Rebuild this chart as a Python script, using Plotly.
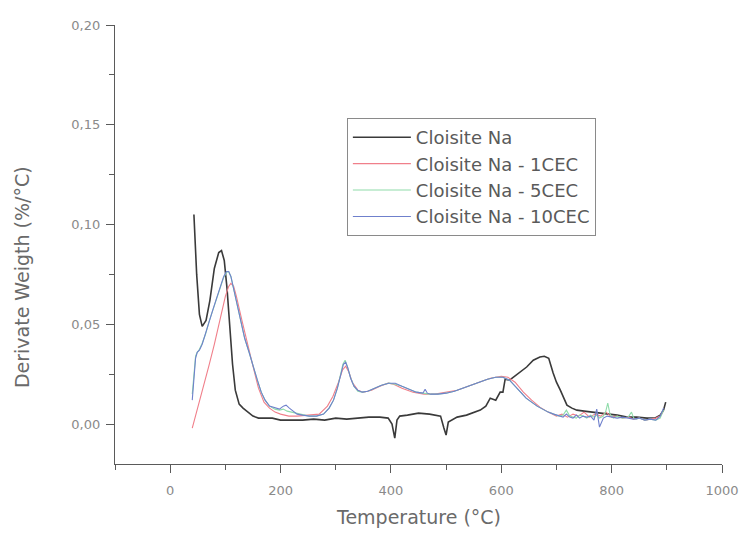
import plotly.graph_objects as go

# ---- data ----
na_x = [43, 48, 53, 58, 65, 72, 80, 88, 93, 98, 103, 108, 113, 118, 125, 132, 140, 150, 160, 170,
        185, 200, 220, 240, 260, 280, 300, 320, 340, 360, 380, 395, 402, 407, 411, 416, 430, 450, 470,
        490, 496, 500, 504, 510, 520, 537, 550, 562, 572, 580, 590, 598, 603, 607, 615, 622, 634, 646,
        658, 670, 678, 686, 694, 700, 707, 713, 719, 728, 737, 750, 765, 779, 795, 810, 828, 845, 864,
        878, 888, 894, 898]
na_y = [0.105, 0.075, 0.055, 0.049, 0.052, 0.062, 0.078, 0.086, 0.087, 0.082, 0.068, 0.050, 0.030,
        0.017, 0.010, 0.008, 0.006, 0.004, 0.003, 0.003, 0.003, 0.002, 0.002, 0.002, 0.0025, 0.002,
        0.003, 0.0025, 0.003, 0.0035, 0.0035, 0.003, 0.0, -0.007, 0.002, 0.004, 0.0045, 0.0055, 0.005,
        0.004, -0.002, -0.0055, 0.001, 0.002, 0.0035, 0.0045, 0.006, 0.007, 0.009, 0.013, 0.012, 0.016,
        0.016, 0.0225, 0.022, 0.0235, 0.026, 0.0286, 0.032, 0.0336, 0.034, 0.033, 0.0256, 0.021, 0.017,
        0.013, 0.0095, 0.008, 0.007, 0.0065, 0.006, 0.0055, 0.005, 0.0045, 0.0035, 0.0035, 0.003,
        0.003, 0.0045, 0.007, 0.011]

c1_x = [40, 50, 60, 70, 80, 90, 100, 106, 110, 115, 120, 130, 140, 150, 160, 170, 180, 190, 200,
        215, 230, 250, 270, 285, 295, 305, 312, 318, 324, 330, 340, 350, 365, 380, 395, 405, 420, 440,
        460, 480, 500, 520, 540, 560, 580, 600, 612, 625, 640, 655, 670, 685, 700, 710, 720, 730, 740,
        750, 760, 770, 780, 790, 800, 810, 820, 830, 840, 850, 860, 870, 880, 888, 893]
c1_y = [-0.002, 0.008, 0.018, 0.029, 0.040, 0.052, 0.064, 0.069, 0.0705, 0.069, 0.064, 0.052, 0.040,
        0.029, 0.018, 0.011, 0.008, 0.006, 0.005, 0.004, 0.004, 0.0045, 0.005, 0.009, 0.014, 0.021,
        0.027, 0.029, 0.026, 0.021, 0.017, 0.016, 0.017, 0.019, 0.0205, 0.020, 0.018, 0.016, 0.015,
        0.015, 0.016, 0.017, 0.019, 0.021, 0.023, 0.024, 0.0235, 0.021, 0.016, 0.012, 0.0085, 0.006,
        0.004, 0.005, 0.0035, 0.005, 0.004, 0.006, 0.0035, 0.005, 0.004, 0.006, 0.0035, 0.004, 0.003,
        0.0035, 0.0025, 0.003, 0.002, 0.0025, 0.003, 0.004, 0.006]

c5_x = [40, 43, 46, 49, 53, 58, 64, 70, 77, 84, 91, 97, 102, 106, 110, 115, 120, 127, 135, 143, 150,
        158, 165, 172, 180, 190, 198, 205, 212, 220, 230, 240, 252, 265, 278, 288, 296, 303, 309, 313,
        317, 321, 326, 333, 340, 348, 358, 370, 383, 396, 408, 420, 433, 446, 458, 470, 485, 500, 515,
        530, 545, 560, 575, 590, 603, 615, 625, 635, 645, 655, 665, 675, 685, 695, 705, 712, 718, 724,
        730, 736, 742, 748, 755, 762, 768, 773, 778, 785, 789, 793, 797, 803, 810, 820, 830, 836, 840,
        845, 850, 860, 870, 880, 888, 894]
c5_y = [0.015, 0.027, 0.034, 0.036, 0.0375, 0.0405, 0.045, 0.051, 0.057, 0.063, 0.069, 0.0735,
        0.076, 0.0765, 0.074, 0.068, 0.061, 0.052, 0.043, 0.036, 0.029, 0.022, 0.016, 0.012, 0.009,
        0.0075, 0.007, 0.0075, 0.0065, 0.006, 0.005, 0.0045, 0.004, 0.004, 0.005, 0.008, 0.012, 0.018,
        0.025, 0.030, 0.032, 0.029, 0.024, 0.019, 0.0165, 0.016, 0.0165, 0.018, 0.0195, 0.0205, 0.020,
        0.019, 0.0175, 0.016, 0.0155, 0.015, 0.015, 0.0155, 0.0165, 0.018, 0.0195, 0.021, 0.0225,
        0.0235, 0.0235, 0.022, 0.019, 0.016, 0.013, 0.011, 0.009, 0.0075, 0.006, 0.005, 0.004, 0.0045,
        0.007, 0.004, 0.0035, 0.003, 0.0045, 0.004, 0.003, 0.0045, 0.0035, 0.0045, 0.003, 0.004, 0.006,
        0.0105, 0.005, 0.003, 0.004, 0.003, 0.0035, 0.006, 0.003, 0.0025, 0.003, 0.002, 0.0025, 0.002,
        0.003, 0.007]

c10_x = [40, 43, 46, 49, 53, 58, 64, 70, 77, 84, 91, 97, 102, 106, 110, 115, 120, 127, 135, 143, 150,
         158, 165, 172, 180, 190, 198, 205, 210, 216, 222, 230, 240, 252, 265, 278, 288, 296, 303, 309,
         314, 318, 322, 327, 333, 340, 348, 358, 370, 383, 396, 408, 420, 433, 446, 458, 462, 466, 472,
         485, 500, 515, 530, 545, 560, 575, 590, 603, 615, 625, 635, 645, 655, 665, 675, 685, 695, 705,
         712, 718, 724, 730, 736, 742, 748, 755, 762, 768, 773, 778, 785, 792, 800, 810, 820, 830, 840,
         850, 860, 870, 880, 888, 894]
c10_y = [0.012, 0.025, 0.033, 0.036, 0.037, 0.040, 0.045, 0.051, 0.057, 0.063, 0.069, 0.074, 0.0765,
         0.0765, 0.074, 0.068, 0.061, 0.052, 0.043, 0.036, 0.029, 0.022, 0.016, 0.012, 0.009, 0.008,
         0.0075, 0.009, 0.0095, 0.008, 0.0065, 0.005, 0.0045, 0.004, 0.004, 0.005, 0.008, 0.012, 0.018,
         0.025, 0.030, 0.031, 0.028, 0.023, 0.019, 0.017, 0.016, 0.0165, 0.018, 0.0195, 0.0205, 0.0205,
         0.019, 0.0175, 0.016, 0.0155, 0.0175, 0.0155, 0.015, 0.015, 0.0155, 0.0165, 0.018, 0.0195,
         0.021, 0.0225, 0.0235, 0.0235, 0.022, 0.019, 0.016, 0.013, 0.011, 0.009, 0.0075, 0.006, 0.005,
         0.004, 0.0035, 0.005, 0.0035, 0.003, 0.0045, 0.003, 0.004, 0.0035, 0.004, 0.002, 0.0075,
         -0.0015, 0.003, 0.004, 0.0035, 0.003, 0.0035, 0.003, 0.0025, 0.003, 0.002, 0.0025, 0.002,
         0.004, 0.008]

names = ["Cloisite Na", "Cloisite Na - 1CEC", "Cloisite Na - 5CEC", "Cloisite Na - 10CEC"]
colors = ["#3a3a3a", "#f07f8a", "#8fdcaa", "#6f80cc"]
widths = [1.6, 1.1, 1.1, 1.1]

x_title = "Temperature (°C)"
y_title = "Derivate Weigth (%/°C)"

fig = go.Figure()
for xs, ys, nm, col, w in zip([na_x, c1_x, c5_x, c10_x], [na_y, c1_y, c5_y, c10_y], names, colors, widths):
    fig.add_trace(go.Scatter(x=xs, y=ys, mode="lines", name=nm,
                             line=dict(color=col, width=w)))

FONT = "DejaVu Sans, Verdana, sans-serif"
axis_font = dict(family=FONT, size=13, color="#8a8a8a")
title_font = dict(family=FONT, size=19, color="#6a6a6a")

fig.update_layout(
    width=744, height=537,
    margin=dict(l=115, r=22, t=25, b=73),
    paper_bgcolor="white", plot_bgcolor="white",
    separators=",.",
    showlegend=True,
    legend=dict(x=0.382, y=0.788, xanchor="left", yanchor="top",
                bordercolor="#8a8a8a", borderwidth=1, bgcolor="white",
                font=dict(family=FONT, size=18, color="#5a5a5a"),
                itemwidth=58, tracegroupgap=0),
    xaxis=dict(range=[-100, 1000], tickvals=[0, 200, 400, 600, 800, 1000],
               showgrid=False, zeroline=False, showline=True, linecolor="#5a5a5a", linewidth=1.2,
               ticks="outside", ticklen=8, tickcolor="#5a5a5a", tickfont=axis_font,
               ticklabelstandoff=6, automargin=False, ticklabeloverflow="allow",
               minor=dict(dtick=100, tick0=0, ticks="outside", ticklen=5, tickcolor="#5a5a5a")),
    yaxis=dict(range=[-0.02, 0.20], tickvals=[0.0, 0.05, 0.10, 0.15, 0.20], tickformat=".2f",
               showgrid=False, zeroline=False, showline=True, linecolor="#5a5a5a", linewidth=1.2,
               ticks="outside", ticklen=8, tickcolor="#5a5a5a", tickfont=axis_font,
               ticklabelstandoff=3, automargin=False,
               minor=dict(dtick=0.025, tick0=0, ticks="outside", ticklen=5, tickcolor="#5a5a5a")),
    annotations=[
        dict(text=x_title, xref="paper", yref="paper", x=0.5, y=-0.121,
             xanchor="center", yanchor="middle", showarrow=False, font=title_font),
        dict(text=y_title, xref="paper", yref="paper", x=-0.153, y=0.426, textangle=-90,
             xanchor="center", yanchor="middle", showarrow=False, font=title_font),
    ],
)

fig.write_html("out.html")
